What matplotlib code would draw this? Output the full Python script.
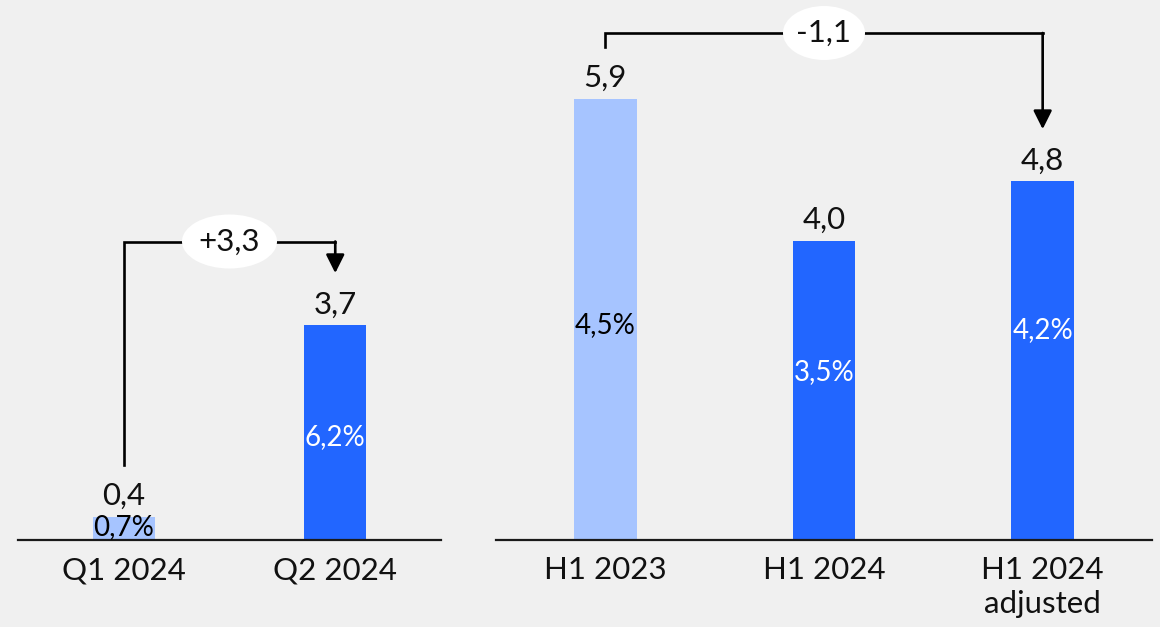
import matplotlib
matplotlib.use('Agg')
from matplotlib import pyplot as plt
from matplotlib.patches import Ellipse

# data
left_categories = ['Q1 2024', 'Q2 2024']
left_values = [0.4, 3.7]
left_value_labels = ['0,4', '3,7']
left_shares = ['0,7%', '6,2%']
left_change = '+3,3'

right_categories = ['H1 2023', 'H1 2024', 'H1 2024\nadjusted']
right_values = [5.9, 4.0, 4.8]
right_value_labels = ['5,9', '4,0', '4,8']
right_shares = ['4,5%', '3,5%', '4,2%']
right_change = '-1,1'

# colours and placement
light_blue = '#a6c4ff'
dark_blue = '#2266ff'
bg = '#f0f0f0'
left_colors = [light_blue, dark_blue]
right_colors = [light_blue, dark_blue, dark_blue]
left_share_y = [0.22, 1.77]
right_share_y = [2.87, 2.25, 2.80]
left_share_colors = ['black', 'white']
right_share_colors = ['black', 'white', 'white']

plt.rcParams['font.family'] = ['Lato', 'DejaVu Sans']

W, H = 1160, 627
baseline_px = 539.7
fig = plt.figure(figsize=(W / 100, H / 100), dpi=100, facecolor=bg)


def make_axes(x0, x1, px_per_unit, n):
    ax = fig.add_axes([x0 / W, (H - baseline_px) / H, (x1 - x0) / W, baseline_px / H])
    ax.set_facecolor(bg)
    ax.set_xlim(-0.5, n - 0.5)
    ax.set_ylim(0, baseline_px / px_per_unit)
    for side in ('top', 'left', 'right'):
        ax.spines[side].set_visible(False)
    ax.spines['bottom'].set_color('#1a1a1a')
    ax.spines['bottom'].set_linewidth(1.6)
    ax.set_yticks([])
    return ax


def draw_panel(ax, categories, values, value_labels, shares, share_y, colors, share_colors,
               width, px_per_unit, bracket_top_px, change, ell_w_px, ell_h_px):
    xs = list(range(len(categories)))
    ax.bar(xs, values, width=width, color=colors, zorder=2)
    ax.set_xticks(xs, categories, fontsize=22.5, linespacing=1.25)
    ax.tick_params(axis='x', length=0, pad=12, colors='#111111')

    for x, v, lab in zip(xs, values, value_labels):
        ax.annotate(lab, (x, v), xytext=(0, 8.5), textcoords='offset points',
                    ha='center', va='baseline', fontsize=22.5, color='#111111')
    for x, y, s, c in zip(xs, share_y, shares, share_colors):
        ax.text(x, y, s, ha='center', va='center', fontsize=20, color=c, zorder=3)

    # bracket from first bar to last bar
    gap = 52 / px_per_unit
    top = bracket_top_px / px_per_unit
    x0, x1 = xs[0], xs[-1]
    ax.plot([x0, x0, x1], [values[0] + gap, top, top], color='black', lw=1.9,
            solid_joinstyle='miter', clip_on=False, zorder=3)
    ax.annotate('', xy=(x1, values[-1] + gap), xytext=(x1, top),
                arrowprops=dict(arrowstyle='-|>', color='black', lw=1.9,
                                mutation_scale=28, shrinkA=0, shrinkB=0),
                annotation_clip=False)
    px_per_x = ax.bbox.width / (len(categories))
    xm = (x0 + x1) / 2
    ax.add_patch(Ellipse((xm, top), ell_w_px / px_per_x, ell_h_px / px_per_unit,
                         facecolor='white', edgecolor='none', zorder=4, clip_on=False))
    ax.text(xm, top, change, ha='center', va='center', fontsize=22.5,
            color='#111111', zorder=5)


left_scale = 58.0
right_scale = 74.7
ax_left = make_axes(18, 441, left_scale, len(left_categories))
ax_right = make_axes(496, 1152, right_scale, len(right_categories))

draw_panel(ax_left, left_categories, left_values, left_value_labels, left_shares,
           left_share_y, left_colors, left_share_colors, 0.293, left_scale,
           baseline_px - 241.5, left_change, 95, 54)
draw_panel(ax_right, right_categories, right_values, right_value_labels, right_shares,
           right_share_y, right_colors, right_share_colors, 0.288, right_scale,
           baseline_px - 33, right_change, 82, 54)

fig.savefig('out.png', dpi=100, facecolor=bg)
